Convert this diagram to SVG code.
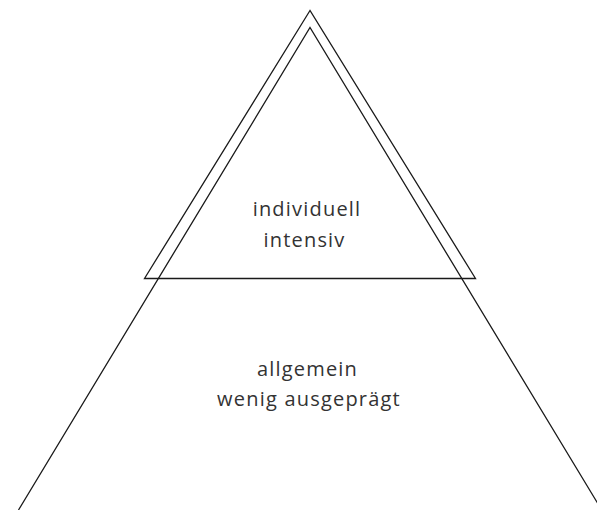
<svg xmlns="http://www.w3.org/2000/svg" width="597" height="510" viewBox="0 0 597 510">
<style>
.ln{fill:none;stroke:#1a1a1a;stroke-width:1.3;stroke-linejoin:miter}
.t{font-family:"Open Sans","Noto Sans","DejaVu Sans",sans-serif;font-size:20px;fill:#333;text-anchor:middle;letter-spacing:1.2px}
</style>
<rect width="597" height="510" fill="#fff"/>
<g id="connectors">
<polyline id="base-triangle" class="ln" points="18.5,510 310,27.5 597.5,503"/>
</g>
<g id="top-node">
<polygon class="ln" points="310,10.5 144.5,278.5 475.5,278.5"/>
<text class="t" x="307" y="216">individuell</text>
<text class="t" x="304.5" y="247">intensiv</text>
</g>
<g id="bottom-node">
<text class="t" x="307.5" y="376">allgemein</text>
<text class="t" x="309" y="406">wenig ausgeprägt</text>
</g>
</svg>
